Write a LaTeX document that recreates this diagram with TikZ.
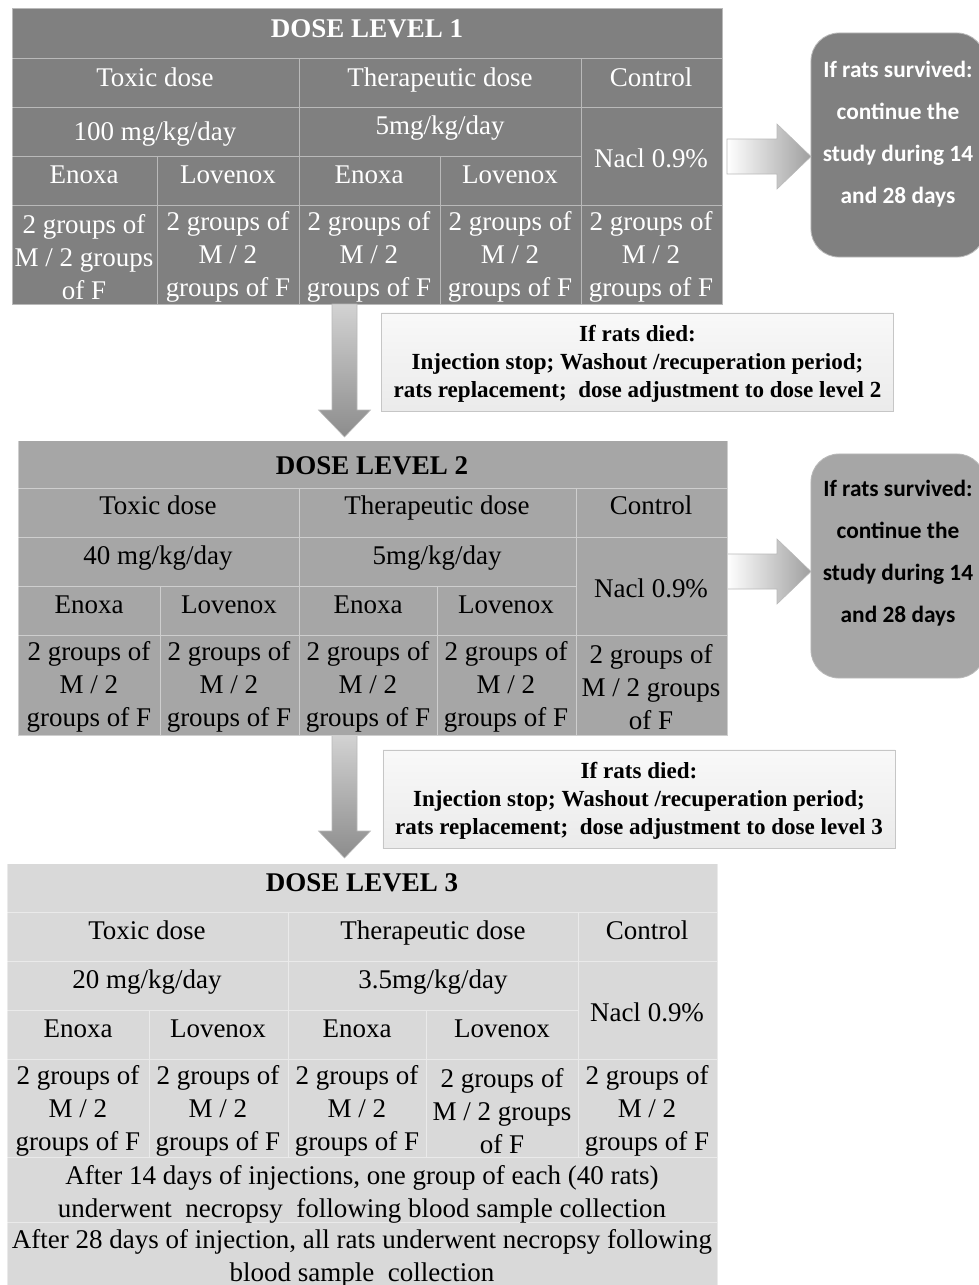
\documentclass[tikz,border=0pt]{standalone}
\usepackage{fontspec}
\setmainfont{Liberation Serif}
\newfontfamily\survfont{Carlito}
\usetikzlibrary{positioning,calc}

\newcommand{\cellfont}{\fontsize{19.2}{23.5}\selectfont}
\newcommand{\notefont}{\fontsize{16.4}{19.9}\selectfont\bfseries}
\newcommand{\survsize}{\fontsize{16.6}{29.9}\selectfont\bfseries}

\tikzset{
  tabbox/.style={draw=white, draw opacity=.45, line width=.7pt, inner sep=0pt, anchor=north west},
  gridline/.style={draw=white, opacity=.45, line width=.7pt},
  cell/.style={inner sep=0pt, align=center, font=\cellfont},
  oneline/.style={cell, text height=13.8pt, text depth=4pt, yshift=-1.2pt},
  headcell/.style={oneline, font=\cellfont\bfseries, yshift=-1.2pt},
  notebox/.style={draw=gray!45, line width=.5pt, top color=gray!5, bottom color=gray!16,
    minimum width=12.8cm, minimum height=2.45cm, inner sep=0pt},
  notetext/.style={inner sep=0pt, align=center, font=\notefont},
  survbox/.style={draw=gray!55, line width=.6pt, rounded corners=0.7cm,
    minimum width=4.35cm, minimum height=5.6cm, inner sep=0pt},
  survtext/.style={inner sep=0pt, align=center, font=\survfont\survsize},
  rarrow/.style={draw=gray!55, line width=.4pt, left color=white, right color=gray!75},
  darrow/.style={draw=gray!55, line width=.4pt, top color=gray!35, bottom color=gray!90}
}

\begin{document}
\begin{tikzpicture}[x=0.025cm, y=-0.025cm]
\useasboundingbox (0,0) rectangle (979,1285);

%% dose level 1
\node[tabbox, fill=gray, minimum width=17.75cm, minimum height=7.4cm] (tab1) at (12,8) {};
\draw[gridline] (12,58) -- (722,58) (12,107) -- (722,107) (12,156) -- (581,156) (12,205) -- (722,205)
  (299,58) -- (299,304) (581,58) -- (581,304) (157,156) -- (157,304) (440,156) -- (440,304);
\begin{scope}[every node/.append style={text=white}]
\node[headcell] (t1title) at (367,27) {DOSE LEVEL 1};
\node[oneline] (t1toxic) at (155,78) {Toxic dose};
\node[oneline] (t1thera) at (440,78) {Therapeutic dose};
\node[oneline] (t1ctrl) at (651,78) {Control};
\node[oneline] (t1tdose) at (155,132) {100 mg/kg/day};
\node[oneline] (t1hdose) at (440,126) {5mg/kg/day};
\node[oneline] (t1nacl) at (651,159) {Nacl 0.9\%};
\foreach \x/\n/\t in {84/a/Enoxa, 228/b/Lovenox, 369/c/Enoxa, 510/d/Lovenox}
  \node[oneline] (t1drug\n) at (\x,175) {\t};
\node[cell] (t1grpa) at (84,257) {2 groups of\\M / 2 groups\\of F};
\foreach \x/\n in {228/b, 369/c, 510/d, 651/e}
  \node[cell] (t1grp\n) at (\x,257) {2 groups of\\M / 2\\groups of F};
\end{scope}

%% survived, level 1
\node[survbox, fill=gray] (surv1) at (898,145) {};
\node[survtext, text=white] (surv1txt) at (898,134) {If rats survived:\\continue the\\study during 14\\and 28 days};

\coordinate (ra1) at (727,156.5);
\coordinate (ra2) at (727,571.5);
\foreach \c in {ra1,ra2}
  \shade[rarrow] (\c) ++(0,-17.5) -- ++(50,0) -- ++(0,-15) -- ++(34,32.5) -- ++(-34,32.5) -- ++(0,-15) -- ++(-50,0) -- cycle;

%% died, level 1
\coordinate (dn1) at (344.5,304);
\coordinate (dn2) at (344.5,735);
\foreach \c/\l in {dn1/106, dn2/96}
  \shade[darrow] (\c) ++(-12.5,0) -- ++(25,0) -- ++(0,\l) -- ++(13.5,0) -- ++(-26,27) -- ++(-26,-27) -- ++(13.5,0) -- cycle;

\node[notebox] (died1) at (637.5,362) {};
\node[notetext] (died1txt) at (637.5,364) {If rats died:\\Injection stop; Washout /recuperation period;\\rats replacement;~ dose adjustment to dose level 2};

%% dose level 2
\node[tabbox, fill=gray!70, minimum width=17.725cm, minimum height=7.375cm] (tab2) at (18,440) {};
\draw[gridline] (18,488) -- (727,488) (18,537) -- (727,537) (18,586) -- (576,586) (18,635) -- (727,635)
  (299,488) -- (299,735) (576,488) -- (576,735) (160,586) -- (160,735) (437,586) -- (437,735);
\node[headcell] (t2title) at (372,464) {DOSE LEVEL 2};
\node[oneline] (t2toxic) at (158,506) {Toxic dose};
\node[oneline] (t2thera) at (437,506) {Therapeutic dose};
\node[oneline] (t2ctrl) at (651,506) {Control};
\node[oneline] (t2tdose) at (158,556) {40 mg/kg/day};
\node[oneline] (t2hdose) at (437,556) {5mg/kg/day};
\node[oneline] (t2nacl) at (651,589) {Nacl 0.9\%};
\foreach \x/\n/\t in {89/a/Enoxa, 229/b/Lovenox, 368/c/Enoxa, 506/d/Lovenox}
  \node[oneline] (t2drug\n) at (\x,605) {\t};
\foreach \x/\n in {89/a, 229/b, 368/c, 506/d}
  \node[cell] (t2grp\n) at (\x,687) {2 groups of\\M / 2\\groups of F};
\node[cell] (t2grpe) at (651,687) {2 groups of\\M / 2 groups\\of F};

%% survived, level 2
\node[survbox, fill=gray!70] (surv2) at (898,566) {};
\node[survtext] (surv2txt) at (898,553) {If rats survived:\\continue the\\study during 14\\and 28 days};

%% died, level 2
\node[notebox] (died2) at (639,799) {};
\node[notetext] (died2txt) at (639,801) {If rats died:\\Injection stop; Washout /recuperation period;\\rats replacement;~ dose adjustment to dose level 3};

%% dose level 3
\node[tabbox, fill=gray!30, minimum width=17.75cm, minimum height=10.7cm] (tab3) at (7,863) {};
\draw[gridline] (7,912) -- (717,912) (7,961) -- (717,961) (7,1010) -- (578,1010) (7,1059) -- (717,1059)
  (7,1157) -- (717,1157) (7,1222) -- (717,1222)
  (288,912) -- (288,1157) (578,912) -- (578,1157) (149,1010) -- (149,1157) (426,1010) -- (426,1157);
\node[headcell] (t3title) at (362,881) {DOSE LEVEL 3};
\node[oneline] (t3toxic) at (147,931) {Toxic dose};
\node[oneline] (t3thera) at (433,931) {Therapeutic dose};
\node[oneline] (t3ctrl) at (647,931) {Control};
\node[oneline] (t3tdose) at (147,980) {20 mg/kg/day};
\node[oneline] (t3hdose) at (433,980) {3.5mg/kg/day};
\node[oneline] (t3nacl) at (647,1013) {Nacl 0.9\%};
\foreach \x/\n/\t in {78/a/Enoxa, 218/b/Lovenox, 357/c/Enoxa, 502/d/Lovenox}
  \node[oneline] (t3drug\n) at (\x,1029) {\t};
\foreach \x/\n in {78/a, 218/b, 357/c, 647/e}
  \node[cell] (t3grp\n) at (\x,1111) {2 groups of\\M / 2\\groups of F};
\node[cell] (t3grpd) at (502,1111) {2 groups of\\M / 2 groups\\of F};
\node[cell] (t3day14) at (362,1194) {After 14 days of injections, one group of each (40 rats)\\underwent~ necropsy~ following blood sample collection};
\node[cell] (t3day28) at (362,1258) {After 28 days of injection, all rats underwent necropsy following\\blood sample~ collection};
\end{tikzpicture}
\end{document}
